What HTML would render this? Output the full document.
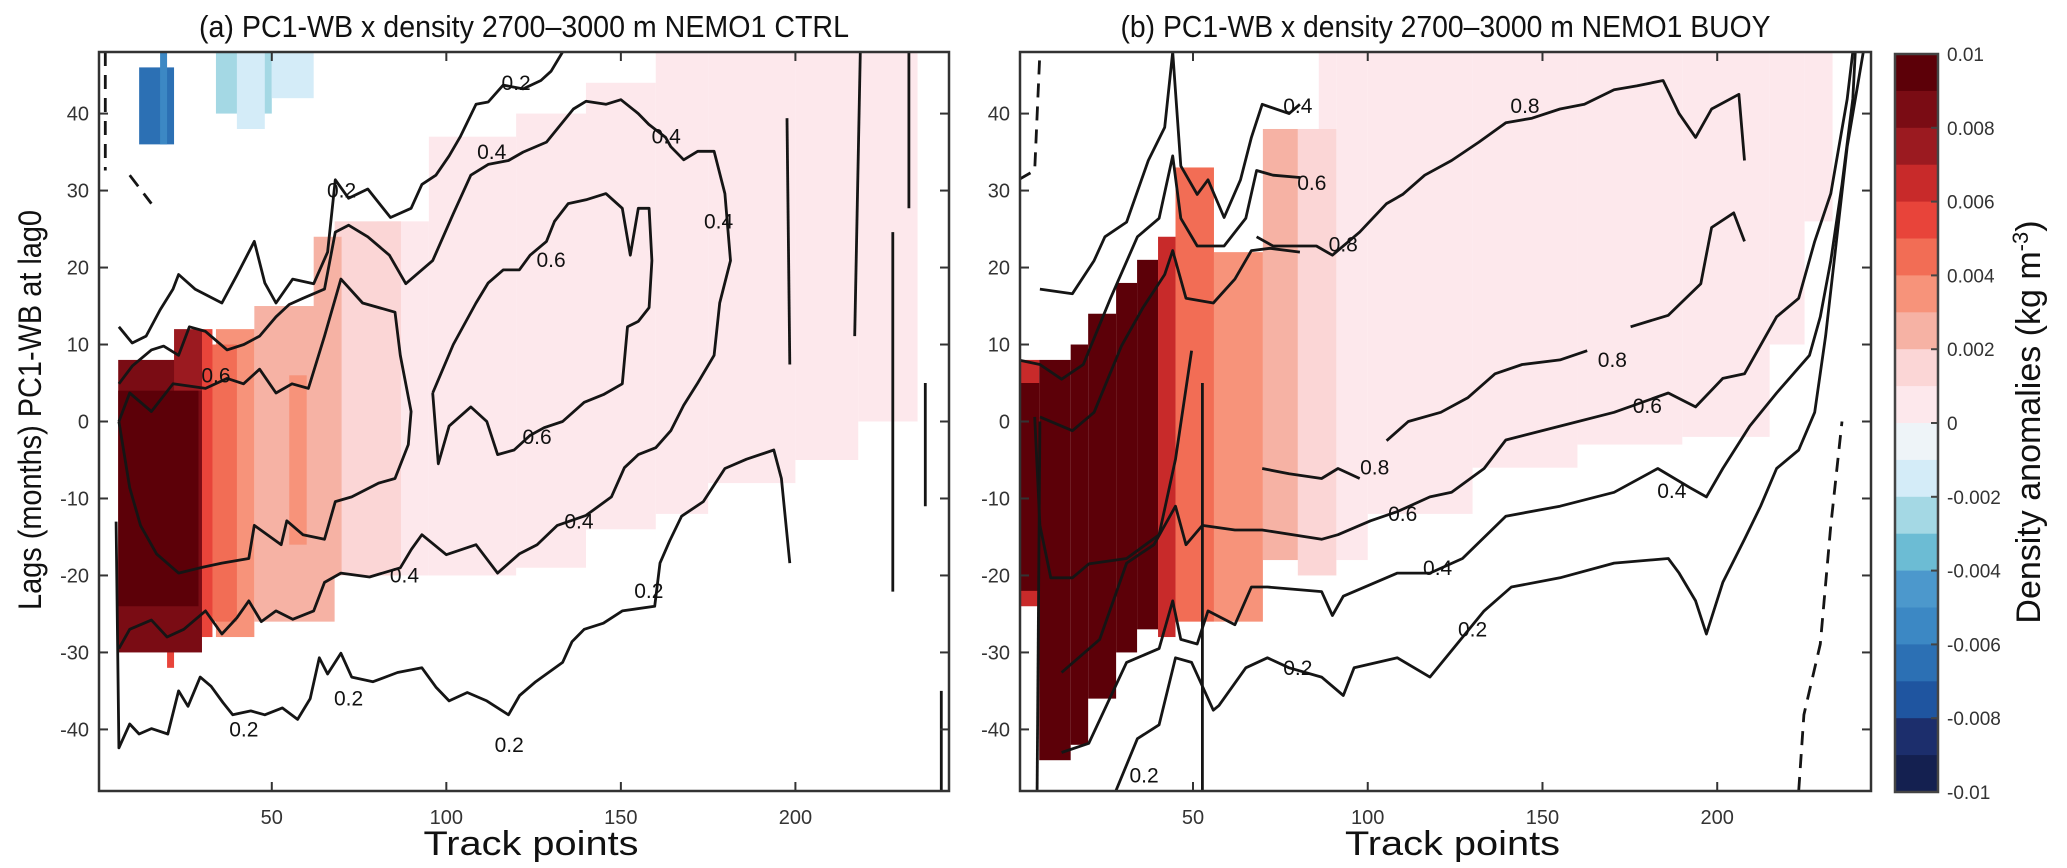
<!DOCTYPE html>
<html><head><meta charset="utf-8">
<style>
html,body{margin:0;padding:0;background:#fff;}
svg{display:block;font-family:"Liberation Sans",sans-serif;}
</style></head>
<body>
<svg id="fig" width="2067" height="868" viewBox="0 0 2067 868" xmlns="http://www.w3.org/2000/svg">
<g id="layer-a"></g>
<g id="layer-b"></g>
<g id="layer-cb"></g>
</svg>
<script>
// ---------- data ----------
const xTicks = [50, 100, 150, 200];
const yTicks = [40, 30, 20, 10, 0, -10, -20, -30, -40];
const cbTickValues = [0.01, 0.008, 0.006, 0.004, 0.002, 0, -0.002, -0.004, -0.006, -0.008, -0.01];
const cbTickLabels = ["0.01","0.008","0.006","0.004","0.002","0","-0.002","-0.004","-0.006","-0.008","-0.01"];
const posColors = ["#fde8ec","#fbd6d6","#f6b2a4","#f7937a","#f26d55","#e8443a","#c82a2a","#9b1a20","#7a0c14","#5c0008"];
const negColors = ["#eef4f8","#d4ecf8","#a4d8e4","#6cbcd4","#4c98cc","#3c88c4","#2c70b4","#1f55a0","#1c2e6c","#142050"];
// heatmap blocks: [track0, track1, lagTop, lagBottom, level]
const heatA = [
 [80,95,26,-20,1],[95,120,37,-20,1],[120,140,40,-19,1],[140,160,44,-14,1],[160,175,48,-12,1],
 [175,200,48,-8,1],[200,218,48,-5,1],[218,235,48,0,1],
 [68,87,26,-20,2],[45,68,15,-26,3],[62,70,24,-20,3],[34,45,12,-28,4],[55,60,6,-16,4],
 [32,40,10,-26,5],[29,33,12,-28,6],[20,22,-24,-32,6],[6,30,8,-30,9],[22,30,12,4,8],[6,29,4,-24,10],
 [12,22,46,36,-7],[18,20,48,36,-6],[34,50,48,40,-3],[50,62,48,42,-2],[40,48,48,38,-2]
];
const heatB = [
 [86,91,48,-20,1],[91,100,48,-18,1],[100,130,48,-12,1],[130,160,48,-6,1],[160,190,48,-3,1],
 [190,215,48,-2,1],[215,225,48,10,1],[225,233,48,26,1],
 [80,91,38,-20,2],[70,80,38,-18,3],[56,70,22,-26,4],[45,56,33,-26,5],[40,45,24,-28,7],[0,6,8,-24,7],
 [0,6,5,-22,10],[6,15,8,-44,10],[15,20,10,-42,10],[20,28,14,-36,10],[28,34,18,-30,10],[34,40,21,-27,10]
];
const contA02u = [[6.2,12.3],[10,10.2],[14,11.1],[18,14.5],[21.7,17.2],[23.3,19.1],[28,17.2],[35.7,15.4],[40,19],[45,23.4],[48,18],[51.2,15.4],[56,18.5],[62,17.9],[66,22],[68.2,31.4],[72,29],[77.5,30.2],[84,26.5],[89.9,27.7],[93,30.8],[97,32],[100.8,34.5],[104,37],[108.5,41.2],[112,41.5],[116.3,43.7],[122,43.2],[127.1,44.3],[130,45.5],[133.3,48]];
const contA02l = [[5.4,-13],[6.2,-42.4],[9.3,-39.3],[12,-40.6],[15.5,-39.9],[20.2,-40.6],[23.3,-35],[26,-37],[29.5,-33.2],[32.6,-34.4],[36,-36.5],[38.8,-38.1],[44,-37.6],[48,-38.1],[53,-37.2],[57.4,-38.7],[61,-36],[63.6,-30.7],[66,-32.8],[69.8,-30.1],[72.9,-33.2],[79,-33.8],[86,-32.6],[93,-32],[97,-34.5],[100.8,-36.3],[106,-35.2],[111.6,-36.3],[117.8,-38.1],[121,-35.6],[125.6,-33.8],[133.3,-31.3],[136,-28.6],[139.5,-27],[145,-26.2],[150.4,-24.6],[159.7,-24],[161.2,-18.4],[164,-15.5],[167.4,-12.3],[173.6,-10.4],[179.8,-6.1],[186,-4.9],[193.8,-3.7],[196,-7.4],[198.4,-18.4]];
const contA04 = [[6.2,-29.5],[9.3,-27],[15.5,-25.8],[20,-28],[24.8,-27],[31,-24.6],[35.7,-27.6],[40,-25.5],[43.4,-23.3],[47,-26],[51.2,-24.6],[56,-25.7],[62,-24.6],[65.1,-20.9],[69.8,-19.7],[78,-20.2],[86.8,-19],[90,-16.6],[93,-14.7],[100,-17.3],[108.5,-16],[114.7,-19.7],[120.9,-17.2],[126,-16],[131.8,-13.5],[140,-12.2],[147.3,-9.8],[151,-6],[155,-4.3],[160,-3.4],[164.3,-1.2],[168,2.1],[172,5],[176.7,8.6],[178.3,15.4],[181.4,20.9],[179.8,29.6],[176.7,35.1],[172,35.1],[168,34],[164.3,35.7],[162.8,36.9],[158,38.6],[155,40],[150,41.8],[145.7,41.2],[140,41.6],[136.4,40.6],[128.7,36.3],[122,35],[117.8,33.9],[112,33.4],[107,32],[102,27],[96.1,20.9],[88.4,17.9],[83.7,21.6],[77.5,24],[72,25.5],[68.2,24.6],[65.1,17.2],[58.9,16],[55,15.2],[51.2,13.6],[46.5,11.1],[42,10],[37.2,9.3],[31,11.7],[26.4,12.3],[23.3,8.6],[19,9.8],[15.5,9.3],[10,7.2],[6.2,4.9]];
const contA06 = [[6.2,0],[9.3,3.7],[15.5,1.3],[21.7,4.9],[31,4.3],[37.2,5.6],[41.9,4.9],[46.5,6.8],[51.2,3.7],[55.8,4.9],[60.5,4.3],[65.1,11.1],[69.8,18.5],[76,15.4],[85.3,14.2],[86.8,8.6],[89.9,1.3],[89.1,-3],[85.3,-7.4],[80.6,-8],[72.9,-9.8],[68.2,-10.4],[65.1,-15.3],[58.9,-14.7],[54.3,-12.9],[52.7,-16],[45,-13.5],[43.4,-17.8],[35.7,-18.4],[29.5,-19],[23.3,-19.7],[17,-17.2],[12.4,-13.5],[9.3,-8.6],[6.2,0]];
const contA06e = [[96.1,3.7],[102,10],[108.5,15.4],[112,18],[116.3,19.7],[120.9,19.7],[124,21.6],[128.7,23.4],[131,26],[134.9,28.3],[140,28.8],[145.7,29.6],[150.4,27.7],[152.7,21.6],[155,27.7],[158.1,27.7],[158.9,20.9],[158.1,14.8],[155,13],[151.9,12.3],[150.4,4.9],[145,3.5],[139.5,2.5],[133.3,0],[128,-0.8],[124,-1.8],[119.4,-3.7],[114.7,-4.3],[111.6,0],[107,1.9],[100.8,-0.6],[97.7,-5.5],[96.1,3.7]];
const contAv1 = [[197.6,39.4],[198.4,7.4]];
const contAv2 = [[218.6,48],[217,11.1]];
const contAv3 = [[227.9,24.6],[227.9,-22.1]];
const contAv4 = [[232.5,48],[232.5,27.7]];
const contAv5 = [[237.2,5],[237.2,-11]];
const contAv6 = [[241.8,-35],[241.8,-48]];
const contAn1 = [[2.3,48],[2.3,32.6]];
const contAn2 = [[9.3,32],[15.5,28.3]];
const contB08a = [[68.2,24],[72.9,22.8],[85.3,22.8],[89.9,21.6],[97.7,24.6],[105.4,28.3],[110,29.5],[116.3,32],[124,33.9],[131.8,36.3],[139.5,38.8],[147,39.4],[155,40.6],[162,41.2],[170.5,43.1],[177,43.6],[184.5,44.3],[189.1,40],[193.8,36.9],[198.4,40.6],[206.2,42.5],[207.8,33.9]];
const contB08b = [[175.2,12.3],[186,13.8],[195.3,17.9],[198.4,25.2],[204.7,27.1],[207.8,23.4]];
const contB08c = [[105.4,-2.5],[111.6,0],[120.9,1.2],[128.7,3.1],[136.4,6.2],[144.2,7.4],[155,8],[162.8,9.2]];
const contB08d = [[69.8,-6.1],[77.5,-6.8],[86.8,-7.4],[91.5,-6.1],[97.7,-7.4]];
const contB08e = [[4.7,0.6],[6.2,-13.5],[9.3,-20.3],[15.5,-20.3],[20.2,-18.5],[31,-17.8],[40.3,-14.7],[45,-4.9],[49.6,9.2]];
const contB06l = [[12.4,-32.6],[23.3,-28.3],[31,-18.4],[38.8,-16],[45,-11],[48,-16],[52.7,-13.5],[62,-14.1],[69.8,-14.1],[86.8,-15.3],[91.5,-14.7],[100.8,-12.9],[108.5,-11.7],[117.8,-9.8],[124,-9.2],[133.3,-6.1],[139.5,-2.4],[155,-0.6],[170.5,1.2],[186,3.7],[193.8,1.9],[201.6,5.6],[207.8,6.2],[217,13.6],[223.3,16],[227.9,23.4],[232.5,29.6],[237.2,41.9],[238.8,48]];
const contB06u = [[6.2,0.6],[15.5,-1.2],[21.7,1.2],[29.5,9.8],[35.7,14.8],[41.9,19.1],[44.2,22.2],[48,16],[55.8,15.4],[62,18.5],[66.7,22.2],[72,22.5],[80.6,22]];
const contB04l = [[12.4,-43],[20.2,-41.8],[31,-31.3],[40.3,-29.5],[44.2,-23.3],[46.5,-28.3],[51.2,-28.9],[54.3,-24.6],[62,-26.4],[66.7,-21.5],[71.3,-21.5],[86.8,-22.1],[89.9,-25.2],[93,-22.7],[108.5,-19.7],[117.8,-19.7],[127.1,-17.8],[139.5,-12.3],[155,-11],[170.5,-9.2],[183,-6.1],[192.2,-8.6],[196.9,-9.8],[201.6,-6.1],[209.3,-0.6],[217,3.7],[226.4,8.6],[229.5,13.6],[232.5,20.9],[235.7,30.8],[238.8,41.9],[239.5,48]];
const contB04u = [[0,8],[6.2,7.4],[12.4,5.5],[18.6,7.4],[26.4,16],[34.1,24],[40.3,26.4],[44.2,34.5],[46.5,26.4],[51.2,22.8],[58.9,22.8],[65.1,26.4],[68.2,32.6],[72.9,32],[80.6,31.7]];
const contB02l = [[27.9,-48],[34.1,-41.2],[40.3,-39.4],[45,-30.7],[49.6,-31.3],[55.8,-37.5],[57.4,-36.9],[65.1,-32],[71.3,-30.7],[77.5,-32],[86.8,-33.2],[93,-35.6],[96.1,-32],[108.5,-30.7],[117.8,-33.2],[133.3,-24.6],[141.1,-21.5],[155,-20.3],[170.5,-18.4],[186,-17.8],[189.1,-19.7],[193.8,-23.3],[196.9,-27.6],[201.6,-20.9],[207.8,-15.3],[212.4,-11],[217,-6.1],[223.3,-3.7],[227.9,1.2],[231,11.1],[234.1,23.4],[237.2,35.7],[241.8,48]];
const contB02u = [[6.2,17.2],[15.5,16.6],[21.7,20.9],[24.8,24],[31,25.9],[37.2,33.9],[41.9,38.2],[44.2,48],[46.5,33.2],[51.2,29.5],[54.3,31.4],[58.9,26.5],[63.6,31.4],[66.7,36.9],[69.8,41.2],[77.5,40],[80.6,41.2]];
const contBv1 = [[52.7,5],[52.7,-48]];
const contBv2 = [[6.2,0],[5.4,-48]];
const contBn1 = [[223.3,-48],[224.8,-38.1],[229.5,-28.9],[232.5,-13.5],[235.7,0]];
const contBn2 = [[0,31.4],[4.7,32.6],[6.2,48]];
const labelsA = [[120,44,"0.2"],[70,30,"0.2"],[113,35,"0.4"],[130,21,"0.6"],[126,-2,"0.6"],[138,-13,"0.4"],[158,-22,"0.2"],[88,-20,"0.4"],[72,-36,"0.2"],[42,-40,"0.2"],[118,-42,"0.2"],[34,6,"0.6"],[178,26,"0.4"],[163,37,"0.4"]];
const labelsB = [[145,41,"0.8"],[93,23,"0.8"],[84,31,"0.6"],[80,41,"0.4"],[170,8,"0.8"],[180,2,"0.6"],[102,-6,"0.8"],[110,-12,"0.6"],[120,-19,"0.4"],[187,-9,"0.4"],[80,-32,"0.2"],[130,-27,"0.2"],[36,-46,"0.2"]];

// ---------- helpers ----------
const NS = "http://www.w3.org/2000/svg";
const TMIN = 0.5, TMAX = 244, LTOP = 48, LBOT = -48;
const Y0 = 52, Y1 = 791;
function mk(tag, attrs, parent) {
  const el = document.createElementNS(NS, tag);
  for (const k in attrs) el.setAttribute(k, attrs[k]);
  parent.appendChild(el);
  return el;
}
function yScale(l) { return Y0 + (LTOP - l) / (LTOP - LBOT) * (Y1 - Y0); }
function colorFor(level) { return level > 0 ? posColors[level - 1] : negColors[-level - 1]; }

function drawPanel(g, x0, x1, heat, contours, labels, title) {
  const xs = t => x0 + (t - TMIN) / (TMAX - TMIN) * (x1 - x0);
  const clipId = "clip" + Math.round(x0);
  const defs = mk("defs", {}, g);
  const cp = mk("clipPath", {id: clipId}, defs);
  mk("rect", {x: x0, y: Y0, width: x1 - x0, height: Y1 - Y0}, cp);
  const plot = mk("g", {"clip-path": "url(#" + clipId + ")"}, g);
  
  
  for (const h of heat) {
    const r = mk("rect", {x: xs(h[0]), y: yScale(h[2]), width: xs(h[1]) - xs(h[0]), height: yScale(h[3]) - yScale(h[2]), fill: colorFor(h[4])}, plot);
    
    
  }
  for (const c of contours) {
    const d = c.pts.map((p, i) => (i ? "L" : "M") + xs(p[0]).toFixed(1) + "," + yScale(p[1]).toFixed(1)).join("");
    const p = mk("path", {d: d, fill: "none", stroke: "#151515", "stroke-width": 2.8, "stroke-linejoin": "round"}, plot);
    if (c.dash) p.setAttribute("stroke-dasharray", "14,9");
    
    
  }
  for (const lb of labels) {
    const t = mk("text", {x: xs(lb[0]), y: yScale(lb[1]) + 7, "font-size": 21, fill: "#111", "text-anchor": "middle"}, plot);
    t.textContent = lb[2];
    
    
  }
  const box = mk("rect", {x: x0, y: Y0, width: x1 - x0, height: Y1 - Y0, fill: "none", stroke: "#333", "stroke-width": 2.5}, g);
  
  
  for (const v of xTicks) {
    const X = xs(v);
    mk("line", {x1: X, y1: Y1, x2: X, y2: Y1 - 9, stroke: "#333", "stroke-width": 2}, g);
    mk("line", {x1: X, y1: Y0, x2: X, y2: Y0 + 9, stroke: "#333", "stroke-width": 2}, g);
    const t = mk("text", {x: X, y: 824, "font-size": 20, fill: "#333", "text-anchor": "middle"}, g);
    t.textContent = v;
    
    
  }
  for (const v of yTicks) {
    const Y = yScale(v);
    mk("line", {x1: x0, y1: Y, x2: x0 + 9, y2: Y, stroke: "#333", "stroke-width": 2}, g);
    mk("line", {x1: x1, y1: Y, x2: x1 - 9, y2: Y, stroke: "#333", "stroke-width": 2}, g);
    const t = mk("text", {x: x0 - 10, y: Y + 7, "font-size": 20, fill: "#333", "text-anchor": "end"}, g);
    t.textContent = v;
    
    
  }
  const xl = mk("text", {x: (x0 + x1) / 2 + 7, y: 855, "font-size": 34, fill: "#111", "text-anchor": "middle", textLength: 215, lengthAdjust: "spacingAndGlyphs"}, g);
  xl.textContent = "Track points";
  
  
  const tt = mk("text", {x: (x0 + x1) / 2, y: 37, "font-size": 31, fill: "#111", "text-anchor": "middle", textLength: 650, lengthAdjust: "spacingAndGlyphs"}, g);
  tt.textContent = title;
  
  
}

const contoursA = [
 {pts: contA02u}, {pts: contA02l}, {pts: contA04}, {pts: contA06}, {pts: contA06e},
 {pts: contAv1}, {pts: contAv2}, {pts: contAv3}, {pts: contAv4}, {pts: contAv5}, {pts: contAv6},
 {pts: contAn1, dash: true}, {pts: contAn2, dash: true}
];
const contoursB = [
 {pts: contB08a}, {pts: contB08b}, {pts: contB08c}, {pts: contB08d}, {pts: contB08e},
 {pts: contB06l}, {pts: contB06u}, {pts: contB04l}, {pts: contB04u}, {pts: contB02l}, {pts: contB02u},
 {pts: contBv1}, {pts: contBv2}, {pts: contBn1, dash: true}, {pts: contBn2, dash: true}
];
drawPanel(document.getElementById("layer-a"), 99, 949, heatA, contoursA, labelsA, "(a) PC1-WB x density 2700\u20133000 m NEMO1 CTRL");
drawPanel(document.getElementById("layer-b"), 1020, 1871, heatB, contoursB, labelsB, "(b) PC1-WB x density 2700\u20133000 m NEMO1 BUOY");

const svg = document.getElementById("fig");
const yl = mk("text", {x: 0, y: 0, "font-size": 32, fill: "#111", "text-anchor": "middle", textLength: 400, lengthAdjust: "spacingAndGlyphs", transform: "translate(41,410) rotate(-90)"}, svg);
yl.textContent = "Lags (months) PC1-WB at lag0";



const cb = document.getElementById("layer-cb");
const CBX0 = 1895, CBX1 = 1938, CBY0 = 54, CBY1 = 792;
const cbY = v => CBY0 + (0.01 - v) / 0.02 * (CBY1 - CBY0);
for (let k = 10; k >= -10; k--) {
  if (k === 0) continue;
  const top = k > 0 ? k * 0.001 : (k + 1) * 0.001;
  const bot = top - 0.001;
  const r = mk("rect", {x: CBX0, y: cbY(top), width: CBX1 - CBX0, height: cbY(bot) - cbY(top) + 0.5, fill: colorFor(k)}, cb);
  
  
}
const cbBox = mk("rect", {x: CBX0, y: CBY0, width: CBX1 - CBX0, height: CBY1 - CBY0, fill: "none", stroke: "#444", "stroke-width": 2.5}, cb);


cbTickValues.forEach((v, i) => {
  const Y = cbY(v);
  mk("line", {x1: CBX1, y1: Y, x2: CBX1 - 7, y2: Y, stroke: "#444", "stroke-width": 2}, cb);
  const t = mk("text", {x: 1947, y: Y + 7, "font-size": 19, fill: "#333"}, cb);
  t.textContent = cbTickLabels[i];
  
  
});
const cbl = mk("text", {x: 0, y: 0, "font-size": 34, fill: "#111", "text-anchor": "middle", transform: "translate(2040,422) rotate(-90)"}, cb);


cbl.textContent = "Density anomalies (kg m";
const sup = mk("tspan", {dy: -12, "font-size": 22}, cbl);
sup.textContent = "-3";
const cls = mk("tspan", {dy: 12}, cbl);
cls.textContent = ")";
</script>
</body></html>
